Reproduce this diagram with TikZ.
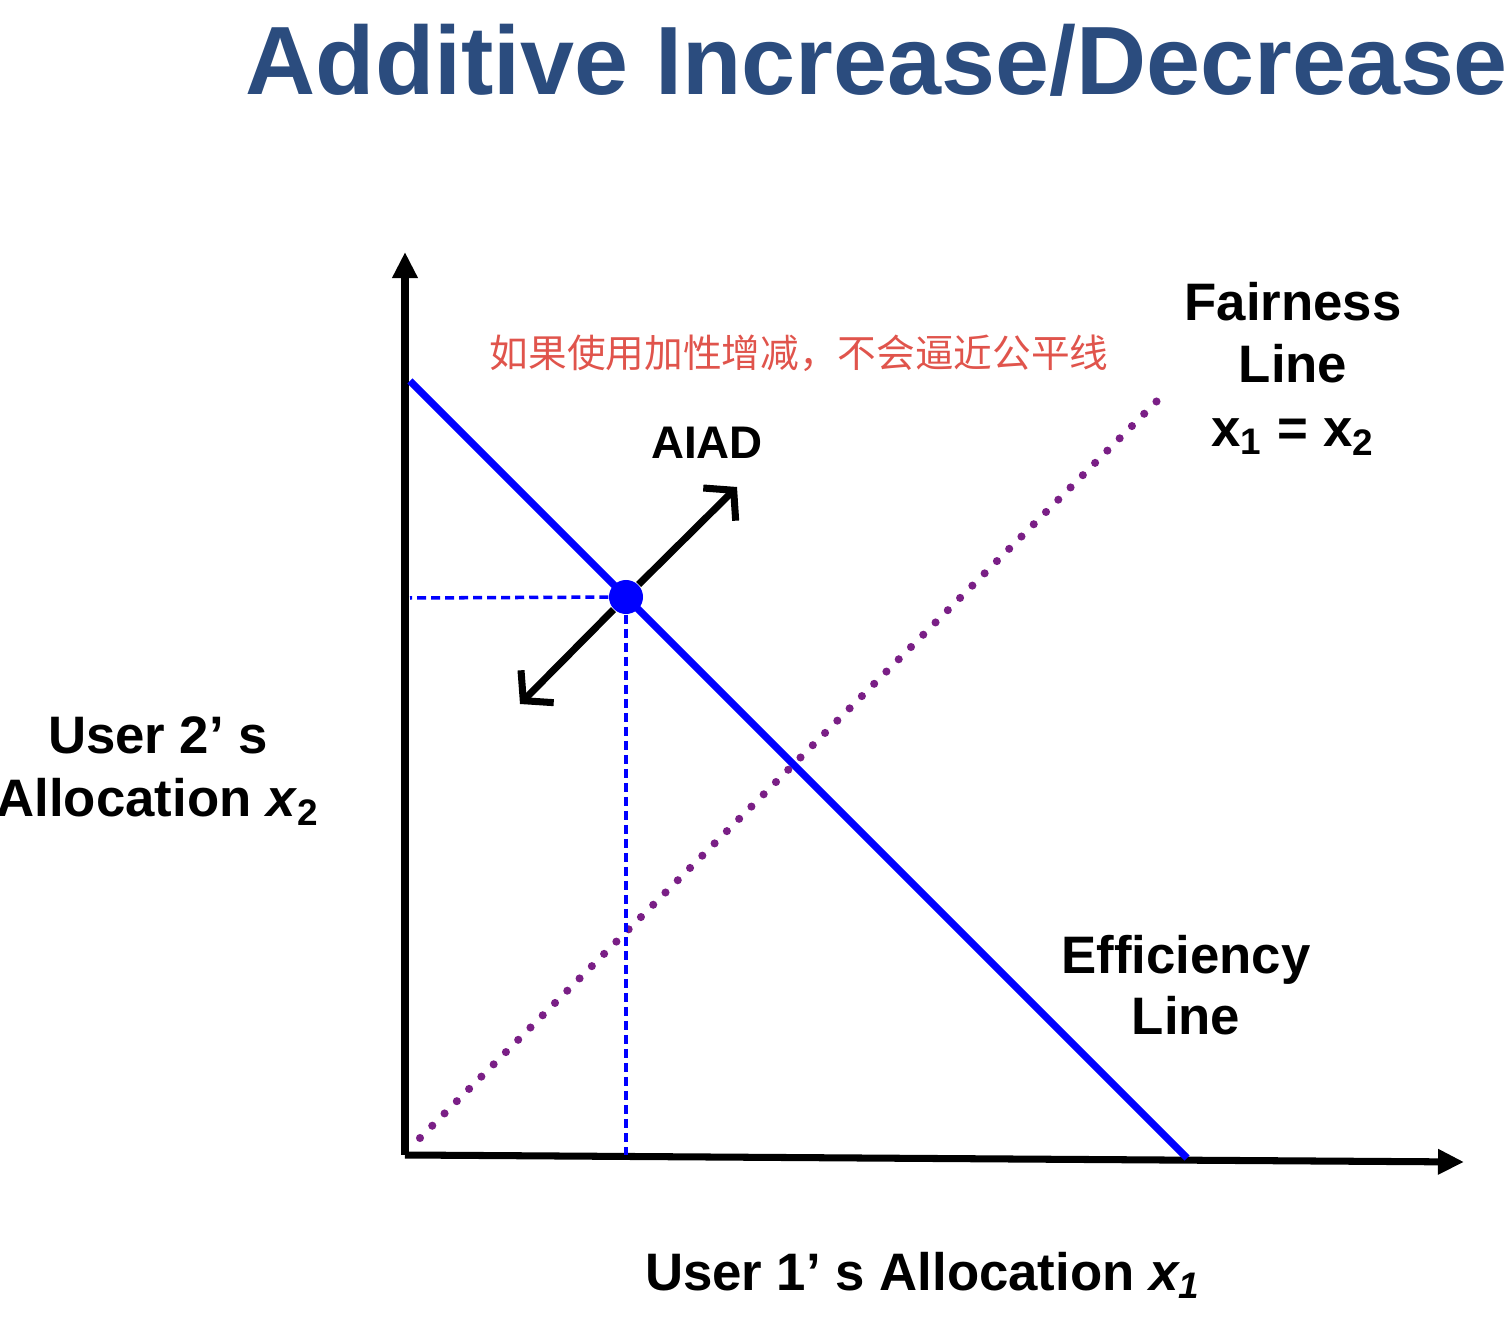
\documentclass[tikz,border=0pt]{standalone}
\usepackage{fontspec}
\setmainfont{Liberation Sans}
\newfontfamily\cjk{Noto Sans CJK SC}
\usepackage{xcolor}
\usetikzlibrary{arrows.meta,positioning}
\definecolor{titleblue}{HTML}{2B4C7E}
\definecolor{notered}{HTML}{E0544C}
\definecolor{fairpurple}{HTML}{7A1F86}
\tikzset{
  axis/.style={line width=2pt, -{Triangle[length=0.26cm,width=0.24cm]}},
  effline/.style={blue, line width=2.1pt},
  fairline/.style={fairpurple, line width=2.3pt, line cap=round, dash pattern=on 0pt off 0.1735cm},
  guide/.style={blue, line width=1pt, dash pattern=on 0.09cm off 0.05cm},
  aiad/.style={line width=2pt, -{Straight Barb[length=0.2cm,width=0.46cm,line width=2pt]}},
  label/.style={font=\bfseries\fontsize{15}{17.5}\selectfont, align=center, inner sep=0pt},
  point/.style={circle, fill=blue, inner sep=0pt, minimum size=0.34cm}
}

\begin{document}
\begin{tikzpicture}[x=0.01cm,y=-0.01cm,line join=round]
  \useasboundingbox (0,0) rectangle (1508,1328);

  \node[anchor=base west, inner sep=0pt, text=titleblue, font=\bfseries\fontsize{27.6}{30}\selectfont] (title) at (245,95) {Additive Increase/Decrease};

  % axes
  \coordinate (O) at (405,1155);
  \coordinate (ytop) at (405,252);
  \coordinate (xend) at (1464,1162);
  \draw[axis] (O) -- (ytop);
  \draw[axis] (O) -- (xend);

  % fairness and efficiency lines
  \coordinate (fairA) at (420,1138);
  \coordinate (fairB) at (1157,401);
  \draw[fairline] (fairA) -- (fairB);
  \coordinate (effA) at (410,381);
  \coordinate (effB) at (1187,1158);
  \draw[effline] (effA) -- (effB);

  % operating point
  \node[point] (pt) at (626,597) {};
  \coordinate (px) at (410,598);
  \coordinate (py) at (626,1155);
  \draw[guide] (pt) -- (px);
  \draw[guide] (pt) -- (py);

  \coordinate (up) at (737,487);
  \coordinate (down) at (520,704);
  \draw[aiad] (pt) -- (up);
  \draw[aiad] (pt) -- (down);

  \node[label, font=\bfseries\fontsize{13}{15}\selectfont, anchor=base] (aiadlbl) at (707,459) {AIAD};

  \node[anchor=base west, inner sep=0pt, text=notered, font=\cjk\fontsize{11}{13}\selectfont] (note) at (489,368) {如果使用加性增减，不会逼近公平线};

  \node[label, anchor=base] (fair1) at (1293,321) {Fairness};
  \node[label, anchor=base] (fair2) at (1293,383) {Line};
  \node[label, anchor=base] (fair3) at (1293,447) {x\textsubscript{1} = x\textsubscript{2}};

  \node[label, anchor=base] (eff1) at (1186,974) {Efficiency};
  \node[label, anchor=base] (eff2) at (1186,1035) {Line};

  \node[label, anchor=base] (ylbl1) at (158,754) {User 2’ s};
  \node[label, anchor=base] (ylbl2) at (158,817) {Allocation \textit{x}\textsubscript{2}};

  \node[label, anchor=base] (xlbl) at (923,1291) {User 1’ s Allocation \textit{x\textsubscript{1}}};
\end{tikzpicture}
\end{document}
